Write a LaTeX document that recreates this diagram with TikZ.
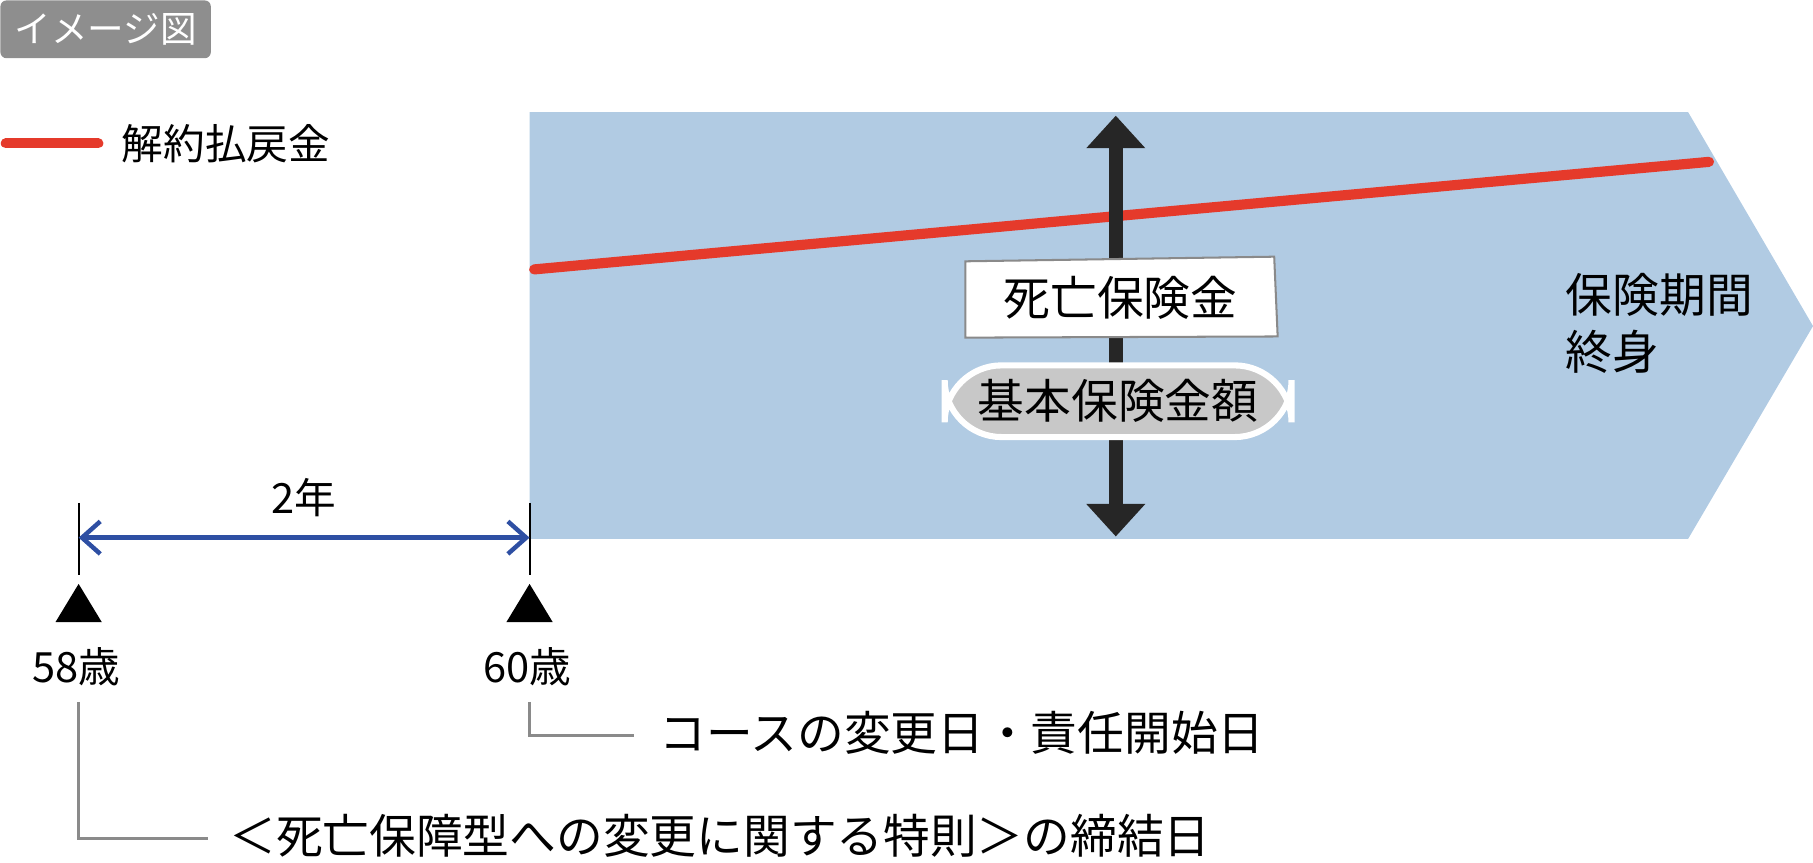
\documentclass[tikz,border=0pt]{standalone}
\usepackage{fontspec}
\setmainfont{Noto Sans CJK JP}
\usetikzlibrary{arrows.meta}
\definecolor{bluebg}{HTML}{B1CBE3}
\definecolor{redl}{HTML}{E53A2B}
\definecolor{bluel}{HTML}{2E4FA3}
\definecolor{graybox}{HTML}{8E8E8E}
\definecolor{grayfill}{HTML}{C8C8C8}
\definecolor{leader}{HTML}{8A8A8A}
\tikzset{
  txt/.style={inner sep=0pt,font=\fontsize{23}{27}\selectfont},
  lead/.style={leader,line width=1.2pt},
  tick/.style={black,line width=1pt},
  tri/.style={fill=black}
}
\begin{document}
\begin{tikzpicture}[x=0.02cm,y=-0.02cm]
\useasboundingbox (0,0) rectangle (1568,746);
% label
\node[fill=graybox,rounded corners=3pt,text=white,font=\fontsize{18}{20}\selectfont,minimum width=182*0.02cm,minimum height=50*0.02cm,anchor=north west,inner sep=0pt] (tag) at (0,0) {イメージ図};
% legend
\coordinate (lg1) at (5,124); \coordinate (lg2) at (85,124);
\draw[redl,line width=5pt,line cap=round] (lg1) -- (lg2);
\node[txt,anchor=west,font=\fontsize{20.5}{24}\selectfont] (lgt) at (105,124) {解約払戻金};
% blue area
\fill[bluebg] (458,97) -- (1460,97) -- (1568,282) -- (1460,466) -- (458,466) -- cycle;
% red line
\coordinate (r1) at (462,233); \coordinate (r2) at (1478,140);
\draw[redl,line width=5pt,line cap=round] (r1) -- (r2);
% vertical arrow
\coordinate (a1) at (965,100); \coordinate (a2) at (965,464);
\draw[black!85,line width=7pt,{Triangle[width=28pt,length=16pt]}-{Triangle[width=28pt,length=16pt]}] (a1) -- (a2);
% boxes
\draw[leader,fill=white,line width=1pt] (835,226) -- (1102,222) -- (1105,291) -- (835,292) -- cycle;
\node[txt] (shibou) at (969,258) {死亡保険金};
\node[fill=grayfill,draw=white,line width=3pt,rounded corners=28pt,minimum width=300*0.02cm,minimum height=62*0.02cm,txt] (kihon) at (967,347) {基本保険金額};
\node[txt,anchor=north west,align=left,font=\fontsize{23}{28}\selectfont] (hoken) at (1354,236) {保険期間\\終身};
% ticks
\draw[tick] (68,435) -- (68,497);
\draw[tick] (458,435) -- (458,497);
\coordinate (b1) at (68,465); \coordinate (b2) at (458,465);
\draw[bluel,line width=2.2pt,{Straight Barb[length=9pt,width=16pt]}-{Straight Barb[length=9pt,width=16pt]}] (b1) -- (b2);
\node[txt,font=\fontsize{20.5}{24}\selectfont] (two) at (263,430) {2年};
% triangles
\fill[tri] (68,505) -- (88,538) -- (48,538) -- cycle;
\fill[tri] (458,505) -- (478,538) -- (438,538) -- cycle;
\node[txt,font=\fontsize{20.5}{24}\selectfont] (a58) at (66,577) {58歳};
\node[txt,font=\fontsize{20.5}{24}\selectfont] (a60) at (456,577) {60歳};
% leaders
\node[txt,anchor=west] (t1) at (570,634) {コースの変更日・責任開始日};
\node[txt,anchor=west] (t2) at (198,723) {＜死亡保障型への変更に関する特則＞の締結日};
\draw[lead] (458,607) |- (548,636);
\draw[lead] (68,607) |- (180,725);
\end{tikzpicture}
\end{document}
